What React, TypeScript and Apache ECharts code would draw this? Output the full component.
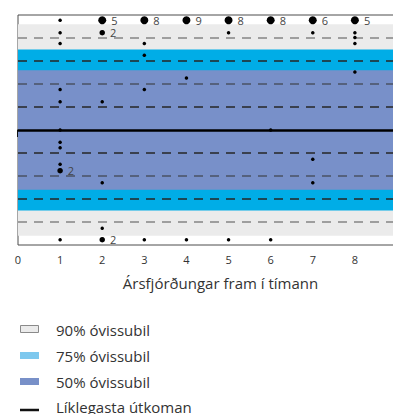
import React, { useEffect, useRef } from "react";
import * as echarts from "echarts";

// Horizons (quarters ahead)
const horizons = [1, 2, 3, 4, 5, 6, 7, 8];
const xTicks = [0, 1, 2, 3, 4, 5, 6, 7, 8];

// Observed forecast errors per horizon and how many coincide at each point
const errorValues = [
  [4.77, 4.23, 3.76, 1.76, 1.23, 0, -0.53, -0.77, -1.49, -1.77, -4.77],
  [4.77, 4.23, 1.23, -2.29, -4.27, -4.77],
  [4.77, 3.76, 3.25, 1.76, -4.77],
  [4.77, 2.26, -4.77],
  [4.77, 4.23, -4.77],
  [4.77, 0, -4.77],
  [4.77, 4.23, -1.27, -2.29],
  [4.77, 4.23, 4.02, 3.76, 2.52],
];
const errorCounts = [
  [1, 1, 1, 1, 1, 1, 1, 1, 1, 2, 1],
  [5, 2, 1, 1, 1, 2],
  [8, 1, 1, 1, 1],
  [9, 1, 1],
  [8, 1, 1],
  [8, 1, 1],
  [6, 1, 1, 1],
  [5, 1, 1, 1, 1],
];

// Uncertainty bands (half widths)
const band90 = 4.6;
const band75 = 3.5;
const band50 = 2.6;
const gridValues = [-4, -3, -2, -1, 1, 2, 3, 4];
const legendLabels = ["90% óvissubil", "75% óvissubil", "50% óvissubil", "Líklegasta útkoman"];
const axisTitle = "Ársfjórðungar fram í tímann";

const FONT = "'Open Sans', sans-serif";

const lineColor = (v: number) => {
  const a = Math.abs(v);
  if (a === 4) return "#858585";
  if (a === 2) return "#4a5264";
  return "#262626";
};

export default function App() {
  const ref = useRef<HTMLDivElement>(null);
  useEffect(() => {
    if (!ref.current) return;
    const chart = echarts.init(ref.current, null, { renderer: "svg" });
    const points: any[] = [];
    horizons.forEach((h, i) => {
      errorValues[i].forEach((v, j) => {
        points.push([h, v, errorCounts[i][j]]);
      });
    });
    const bandSeries = (name: string, half: number, color: string, z: number) => ({
      name,
      type: "line",
      data: [],
      z,
      silent: true,
      markArea: {
        silent: true,
        itemStyle: { color },
        data: [[{ yAxis: -half }, { yAxis: half }]],
      },
    });
    const option: any = {
      animation: false,
      grid: {
        left: 18,
        top: 15,
        width: 381,
        height: 230,
        show: true,
        borderColor: "#4d4d4d",
        borderWidth: 1,
        backgroundColor: "transparent",
      },
      xAxis: {
        type: "value",
        min: 0,
        max: 9,
        interval: 1,
        splitLine: { show: false },
        axisLine: { show: true, lineStyle: { color: "#111", width: 1.5 } },
        axisTick: { show: true, length: 7, lineStyle: { color: "#111", width: 2 } },
        axisLabel: {
          margin: 9,
          fontSize: 11,
          color: "#333",
          fontFamily: FONT,
          formatter: (v: number) => (xTicks.includes(v) ? String(v) : ""),
        },
      },
      yAxis: {
        type: "value",
        min: -5,
        max: 5,
        interval: 1,
        show: false,
        splitLine: { show: false },
      },
      graphic: [
        {
          type: "text",
          x: 220.5,
          y: 282.5,
          style: {
            text: axisTitle,
            fontSize: 15,
            fontFamily: FONT,
            fill: "#333",
            align: "center",
            verticalAlign: "middle",
          },
        },
        { type: "rect", shape: { x: 20.5, y: 325.5, width: 18, height: 7 }, style: { fill: "#ebebeb", stroke: "#8a8a8a", lineWidth: 1 } },
        { type: "rect", shape: { x: 20, y: 352, width: 19, height: 7 }, style: { fill: "#7dc8ee" } },
        { type: "rect", shape: { x: 20, y: 378, width: 19, height: 7 }, style: { fill: "#7890c8" } },
        { type: "line", shape: { x1: 20, y1: 410, x2: 39, y2: 410 }, style: { stroke: "#111", lineWidth: 2.5 } },
        ...legendLabels.map((t, i) => ({
          type: "text",
          x: 56,
          y: [329.5, 355.5, 382, 406.5][i],
          style: {
            text: t,
            fontSize: 15,
            lineHeight: 15,
            fontFamily: FONT,
            fill: "#333",
            verticalAlign: "middle",
          },
        })),
      ],
      series: [
        bandSeries("90% óvissubil", band90, "#ebebeb", 1),
        bandSeries("75% óvissubil", band75, "#00ade7", 2),
        bandSeries("50% óvissubil", band50, "#7890c9", 3),
        {
          type: "line",
          data: [],
          z: 4,
          silent: true,
          markLine: {
            silent: true,
            symbol: ["none", "none"],
            label: { show: false },
            data: gridValues.map((v) => ({
              yAxis: v,
              lineStyle: { color: lineColor(v), width: 1.5, type: [9, 7] },
            })),
          },
        },
        {
          name: "Líklegasta útkoman",
          type: "line",
          data: [],
          z: 5,
          silent: true,
          markLine: {
            silent: true,
            symbol: ["none", "none"],
            label: { show: false },
            data: [{ yAxis: 0, lineStyle: { color: "#000", width: 2.5, type: "solid" } }],
          },
        },
        {
          type: "scatter",
          z: 6,
          data: points,
          symbolSize: (d: number[]) => (d[2] >= 5 ? 8 : d[2] >= 2 ? 5.5 : 3.5),
          itemStyle: { color: "#000", opacity: 1 },
          label: {
            show: true,
            position: "right",
            distance: 5,
            fontSize: 11,
            lineHeight: 11,
            fontFamily: FONT,
            color: "#444",
            formatter: (p: any) => (p.value[2] > 1 ? String(p.value[2]) : ""),
          },
        },
      ],
    };
    chart.setOption(option);
    return () => chart.dispose();
  }, []);
  return (
    <div style={{ position: "fixed", left: 0, top: 0, width: 393, height: 414, overflow: "hidden", background: "#fff" }}>
      <div ref={ref} style={{ width: 400, height: 414 }} />
    </div>
  );
}
